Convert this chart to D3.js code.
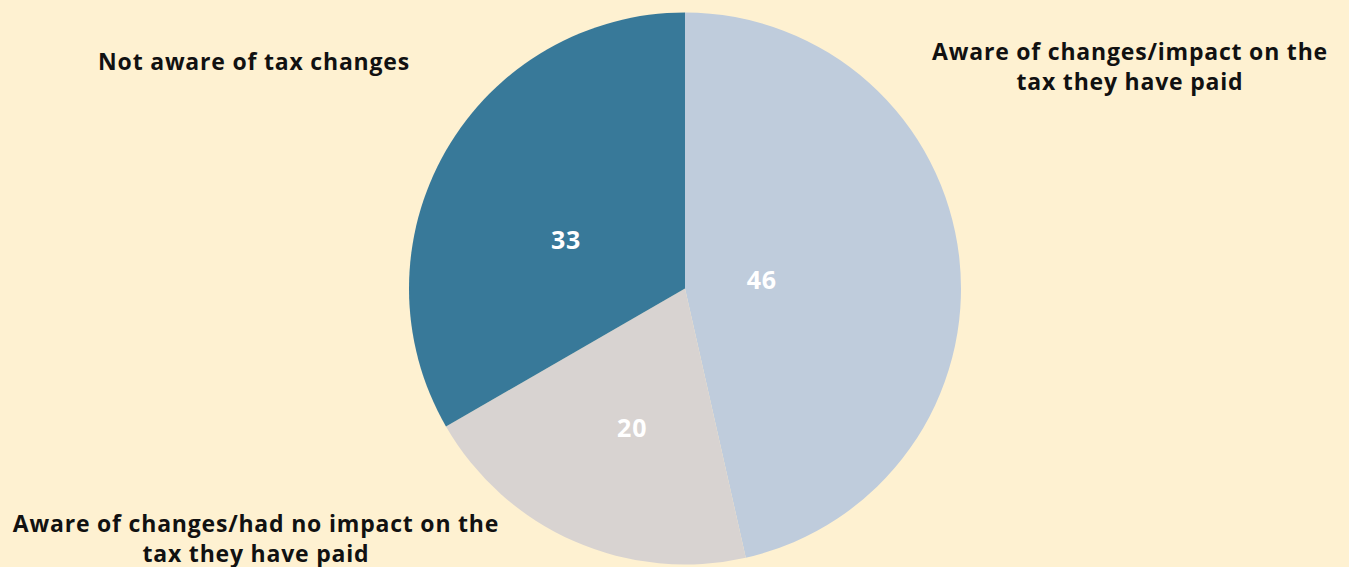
<!DOCTYPE html>
<html>
<head>
<meta charset="utf-8">
<script src="https://cdn.jsdelivr.net/npm/d3@7"></script>
<style>
  html, body { margin: 0; padding: 0; background: #fef1d1; }
  svg { display: block; }
  text { font-family: "Open Sans", Lato, sans-serif; font-weight: 700; }
</style>
</head>
<body>
<div id="graph"></div>
<script>
var width = 1349;
var height = 567;

// survey answers, percent
var categories = [
    'Aware of changes/impact on the tax they have paid',
    'Aware of changes/had no impact on the tax they have paid',
    'Not aware of tax changes'
];
var values = [46, 20, 33];
var colors = ['#bfccdc', '#d8d3d1', '#387999'];

var cx = 685, cy = 288.5, radius = 276;

var svg = d3.select('#graph')
    .append('svg')
    .attr('width', width)
    .attr('height', height);

var pie = d3.pie().sort(null).value(function(d) { return d; });
var arcs = pie(values);

var arc = d3.arc().innerRadius(0).outerRadius(radius);

var g = svg.append('g').attr('transform', 'translate(' + cx + ',' + cy + ')');

g.selectAll('path')
    .data(arcs)
    .enter()
    .append('path')
    .attr('d', arc)
    .attr('fill', function(d, i) { return colors[i]; });

// value labels sit at different depths inside each slice
var labelR = [0.28, 0.54, 0.465];
var labelNudge = [0, -0.05, -0.14];
g.selectAll('text.val')
    .data(arcs)
    .enter()
    .append('text')
    .attr('class', 'val')
    .attr('text-anchor', 'middle')
    .attr('dy', '0.35em')
    .attr('fill', '#fff')
    .style('font-size', '25px')
    .style('letter-spacing', '0.8px')
    .attr('x', function(d, i) {
        var a = (d.startAngle + d.endAngle) / 2 + labelNudge[i];
        return Math.sin(a) * radius * labelR[i];
    })
    .attr('y', function(d, i) {
        var a = (d.startAngle + d.endAngle) / 2 + labelNudge[i];
        return -Math.cos(a) * radius * labelR[i];
    })
    .text(function(d) { return d.data; });

// category labels
var catPos = [
    { x: 1130, y: 60, lines: ['Aware of changes/impact on the', 'tax they have paid'] },
    { x: 256, y: 532, lines: ['Aware of changes/had no impact on the', 'tax they have paid'] },
    { x: 254, y: 70, lines: ['Not aware of tax changes'] }
];

catPos.forEach(function(p) {
    var t = svg.append('text')
        .attr('text-anchor', 'middle')
        .attr('fill', '#111')
        .style('font-size', '23px')
        .style('letter-spacing', '0.8px');
    p.lines.forEach(function(line, j) {
        t.append('tspan')
            .attr('x', p.x)
            .attr('y', p.y + j * 29.5)
            .text(line);
    });
});
</script>
</body>
</html>
